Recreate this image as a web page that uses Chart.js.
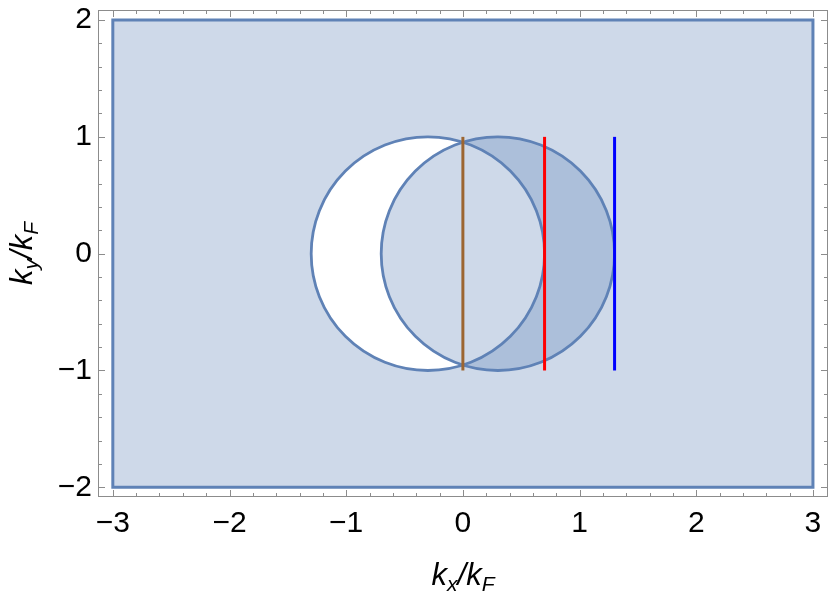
<!DOCTYPE html>
<html>
<head>
    <title>Fermi circles</title>
    <meta charset="UTF-8">
    <script src="https://cdn.jsdelivr.net/npm/chart.js@4.4.1/dist/chart.umd.min.js"></script>
    <style>
        body { margin: 0; background: #fff; }
    </style>
</head>
<body>
<canvas id="myChart" width="830" height="596"></canvas>
<script>
    // tick labels
    const xTicks = [-3, -2, -1, 0, 1, 2, 3];
    const yTicks = [-2, -1, 0, 1, 2];

    // region: box minus circle A, plus circle B
    const boxX = [-3, 3];
    const boxY = [-2, 2];
    const circleCentersX = [-0.3, 0.3];
    const circleRadii = [1, 1];

    // vertical cuts
    const cutX = [0, 0.7, 1.3];
    const cutY = [-1, 1];
    const cutColors = ['#9c6531', '#ff0000', '#0000ff'];

    const regionColor = 'rgba(94, 129, 181, 0.3)';
    const edgeColor = '#5f82b6';
    const frameColor = '#8c8c8c';
    const fontFamily = '"Liberation Sans", Arial, Helvetica, sans-serif';

    const fmt = v => (v < 0 ? '\u2212' + Math.abs(v) : String(v));

    const regionPlugin = {
        id: 'region',
        beforeDatasetsDraw(chart) {
            const c = chart.ctx, sx = chart.scales.x, sy = chart.scales.y;
            const px = v => sx.getPixelForValue(v), py = v => sy.getPixelForValue(v);
            const ell = (i) => {
                const cx = px(circleCentersX[i]);
                const rx = Math.abs(px(circleCentersX[i] + circleRadii[i]) - cx);
                const ry = Math.abs(py(circleRadii[i]) - py(0));
                c.moveTo(cx + rx, py(0));
                c.ellipse(cx, py(0), rx, ry, 0, 0, Math.PI * 2);
            };
            const x0 = px(boxX[0]), x1 = px(boxX[1]), y0 = py(boxY[1]), y1 = py(boxY[0]);
            c.save();
            // box with hole A
            c.beginPath();
            c.rect(x0, y0, x1 - x0, y1 - y0);
            ell(0);
            c.fillStyle = regionColor;
            c.fill('evenodd');
            // circle B
            c.beginPath();
            ell(1);
            c.fill();
            // edges
            c.strokeStyle = edgeColor;
            c.lineWidth = 3;
            c.beginPath();
            c.rect(x0, y0, x1 - x0, y1 - y0);
            c.stroke();
            c.lineWidth = 2.8;
            c.beginPath();
            ell(0);
            c.stroke();
            c.beginPath();
            ell(1);
            c.stroke();
            c.restore();
        },
        afterDraw(chart) {
            const c = chart.ctx, a = chart.chartArea, sx = chart.scales.x, sy = chart.scales.y;
            c.save();
            c.strokeStyle = frameColor;
            c.lineWidth = 1;
            c.strokeRect(a.left + 0.5, a.top + 0.5, a.right - a.left - 1, a.bottom - a.top - 1);
            c.beginPath();
            for (let i = -20; i <= 20; i++) {
                const v = i / 5;
                const len = (i % 5 === 0) ? 7 : 4;
                if (v >= sx.min && v <= sx.max) {
                    const p = Math.round(sx.getPixelForValue(v)) + 0.5;
                    c.moveTo(p, a.bottom); c.lineTo(p, a.bottom - len);
                    c.moveTo(p, a.top); c.lineTo(p, a.top + len);
                }
                if (v >= sy.min && v <= sy.max) {
                    const p = Math.round(sy.getPixelForValue(v)) + 0.5;
                    c.moveTo(a.left, p); c.lineTo(a.left + len, p);
                    c.moveTo(a.right, p); c.lineTo(a.right - len, p);
                }
            }
            c.stroke();

            // axis titles with subscripts
            const drawTitle = (main1, sub1, main2, sub2) => {
                const big = 'italic 31px ' + fontFamily, small = 'italic 21px ' + fontFamily;
                const parts = [[main1, big, 0], [sub1, small, 6], [main2, big, 0], [sub2, small, 6]];
                let w = 0;
                parts.forEach(p => { c.font = p[1]; w += c.measureText(p[0]).width; });
                let x = -w / 2;
                parts.forEach(p => {
                    c.font = p[1];
                    c.fillText(p[0], x, p[2]);
                    x += c.measureText(p[0]).width;
                });
            };
            c.fillStyle = '#000';
            c.textBaseline = 'alphabetic';
            c.textAlign = 'left';
            c.save();
            c.translate((a.left + a.right) / 2, 585);
            drawTitle('k', 'x', '/k', 'F');
            c.restore();
            c.save();
            c.translate(32, (a.top + a.bottom) / 2);
            c.rotate(-Math.PI / 2);
            drawTitle('k', 'y', '/k', 'F');
            c.restore();
            c.restore();
        }
    };

    const datasets = cutX.map((x, i) => ({
        data: cutY.map(y => ({x: x, y: y})),
        borderColor: cutColors[i],
        borderWidth: 3,
        pointRadius: 0,
        fill: false,
        tension: 0
    }));

    const tickFont = {family: fontFamily, size: 30};

    let ctx = document.getElementById('myChart').getContext('2d');
    let myChart = new Chart(ctx, {
        type: 'line',
        data: {datasets: datasets},
        options: {
            responsive: false,
            animation: false,
            layout: {padding: {top: 10, right: 2, left: 0, bottom: 0}},
            plugins: {legend: {display: false}, tooltip: {enabled: false}},
            scales: {
                x: {
                    type: 'linear',
                    min: -3.127,
                    max: 3.129,
                    afterBuildTicks: s => { s.ticks = xTicks.map(v => ({value: v})); },
                    afterFit: s => { s.height = 99; s.paddingLeft = 0; s.paddingRight = 0; },
                    grid: {display: false, drawTicks: false},
                    border: {display: false},
                    ticks: {font: tickFont, color: '#000', padding: 9, maxRotation: 0, autoSkip: false, callback: fmt}
                },
                y: {
                    type: 'linear',
                    min: -2.083,
                    max: 2.086,
                    afterBuildTicks: s => { s.ticks = yTicks.map(v => ({value: v})); },
                    afterFit: s => { s.width = 98; s.paddingTop = 0; s.paddingBottom = 0; },
                    grid: {display: false, drawTicks: false},
                    border: {display: false},
                    ticks: {font: tickFont, color: '#000', padding: 6, autoSkip: false, callback: fmt}
                }
            }
        },
        plugins: [regionPlugin]
    });
</script>
</body>
</html>
